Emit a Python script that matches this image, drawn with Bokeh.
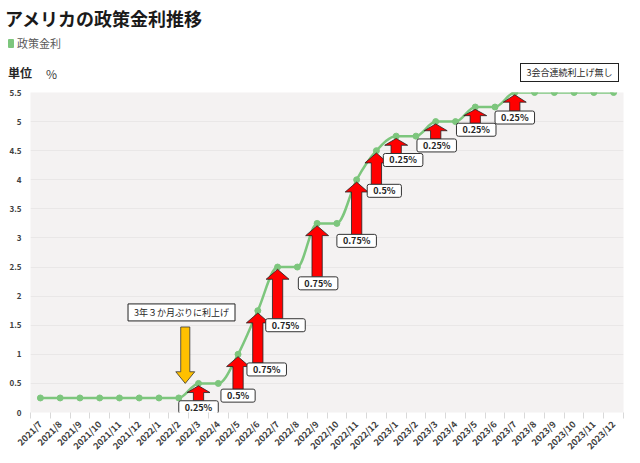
import math
from bokeh.plotting import figure
from bokeh.layouts import column
from bokeh.models import Range1d, FixedTicker, Label, ColumnDataSource, Div
from bokeh.core.properties import value
from bokeh.embed import file_html
from bokeh.resources import INLINE

# ---------------- data ----------------
months = ["2021/7", "2021/8", "2021/9", "2021/10", "2021/11", "2021/12",
          "2022/1", "2022/2", "2022/3", "2022/4", "2022/5", "2022/6",
          "2022/7", "2022/8", "2022/9", "2022/10", "2022/11", "2022/12",
          "2023/1", "2023/2", "2023/3", "2023/4", "2023/5", "2023/6",
          "2023/7", "2023/8", "2023/9", "2023/10", "2023/11", "2023/12"]
rate = [0.25, 0.25, 0.25, 0.25, 0.25, 0.25, 0.25, 0.25, 0.5, 0.5,
        1.0, 1.75, 2.5, 2.5, 3.25, 3.25, 4.0, 4.5, 4.75, 4.75,
        5.0, 5.0, 5.25, 5.25, 5.5, 5.5, 5.5, 5.5, 5.5, 5.5]
y_ticks = [0, 0.5, 1, 1.5, 2, 2.5, 3, 3.5, 4, 4.5, 5, 5.5]
title_text = "アメリカの政策金利推移"
series_name = "政策金利"
unit_text = "単位"
unit_sym = "%"
note_start = "3年３か月ぶりに利上げ"
note_end = "3会合連続利上げ無し"

# ---------------- layout (styling only) ----------------
label_dx = [0, 0, 0.45, 0.4, 0.05, 0, 0.4, 0.35, 0.05, 0.05, 0]
label_dy = [-0.16, -0.21, -0.26, -0.25, -0.28, -0.3, -0.19, -0.16, -0.16, -0.14, -0.18]

GREEN = "#7DC67D"
JP = "Noto Sans CJK JP"
n = len(months)
idx = list(range(n))
HEAD_H = 86

# ---------------- header (title, legend, unit, end note) ----------------
A = "position:absolute;line-height:1;white-space:nowrap;"
header_html = f"""
<div style="position:relative;width:640px;height:{HEAD_H}px;font-family:'{JP}';background:white;">
<span style="{A}left:5px;top:9px;font-size:18px;font-weight:bold;color:#1A1A1A;">{title_text}</span>
<span style="{A}left:8px;top:39px;width:6px;height:9px;background:{GREEN};border-radius:1px;"></span>
<span style="{A}left:17px;top:38px;font-size:11px;color:#595959;">{series_name}</span>
<span style="{A}left:8px;top:67px;font-size:12px;font-weight:bold;color:#262626;">{unit_text}</span>
<span style="{A}left:46px;top:68px;font-size:12px;color:#404040;">{unit_sym}</span>
<span style="{A}left:520px;top:63px;width:99px;height:19px;box-sizing:border-box;border:1px solid #222222;background:white;display:flex;align-items:center;justify-content:center;font-size:9px;color:#262626;">{note_end}</span>
</div>
"""
header = Div(text=header_html, width=640, height=HEAD_H, margin=(0, 0, 0, 0))

# ---------------- main chart ----------------
p = figure(width=640, height=463 - HEAD_H, output_backend="svg", toolbar_location=None,
           x_range=Range1d(-0.5, n - 0.5), y_range=Range1d(0, 5.5),
           min_border_left=30, min_border_right=17, min_border_top=6,
           min_border_bottom=51)
p.background_fill_color = "#F4F2F2"
p.border_fill_color = "white"
p.outline_line_color = None

p.xaxis.ticker = FixedTicker(ticks=idx, minor_ticks=[i - 0.5 for i in range(n + 1)])
p.xaxis.major_label_overrides = {i: m for i, m in enumerate(months)}
p.xaxis.major_label_orientation = math.pi / 4
p.xaxis.axis_line_color = None
p.xaxis.major_tick_line_color = None
p.xaxis.minor_tick_line_color = "#D9D9D9"
p.xaxis.minor_tick_out = 6
p.xaxis.minor_tick_in = 0
p.xaxis.major_label_standoff = 4
p.xaxis.major_label_text_font = JP
p.xaxis.major_label_text_font_style = "bold"
p.xaxis.major_label_text_font_size = "9px"
p.xaxis.major_label_text_color = "#404040"

p.yaxis.ticker = FixedTicker(ticks=y_ticks)
p.yaxis.major_label_overrides = {t: f"{t:g}" for t in y_ticks}
p.yaxis.axis_line_color = None
p.yaxis.major_tick_line_color = None
p.yaxis.minor_tick_line_color = None
p.yaxis.major_label_standoff = 3
p.yaxis.major_label_text_font = JP
p.yaxis.major_label_text_font_style = "bold"
p.yaxis.major_label_text_font_size = "8px"
p.yaxis.major_label_text_color = "#404040"

p.xgrid.grid_line_color = None
p.ygrid.grid_line_color = "#E9E7E7"
p.ygrid.grid_line_width = 1

# smooth (monotone cubic) line through the data, drawn as bezier segments
d = [rate[i + 1] - rate[i] for i in range(n - 1)]
m = [0.0] * n
m[0], m[-1] = d[0], d[-1]
for k in range(1, n - 1):
    if d[k - 1] * d[k] <= 0:
        m[k] = 0.0
    else:
        m[k] = (d[k - 1] + d[k]) / 2
p.bezier(x0=idx[:-1], y0=rate[:-1], x1=idx[1:], y1=rate[1:],
         cx0=[idx[k] + 1 / 3 for k in range(n - 1)],
         cy0=[rate[k] + m[k] / 3 for k in range(n - 1)],
         cx1=[idx[k + 1] - 1 / 3 for k in range(n - 1)],
         cy1=[rate[k + 1] - m[k + 1] / 3 for k in range(n - 1)],
         line_color=GREEN, line_width=2.5)
p.scatter(idx, rate, size=6, color=GREEN)

# hike arrows and labels
hikes = [i for i in range(1, n) if rate[i] > rate[i - 1]]
axs, ays, lx, ly, lt = [], [], [], [], []
for k, i in enumerate(hikes):
    old, new = rate[i - 1], rate[i]
    ycen = old + label_dy[k]
    bottom = ycen + 0.11
    top = new - 0.04
    sw, hw = 0.26, 0.58
    hh = min(0.17, 0.45 * (top - bottom))
    x = idx[i]
    axs.append([x - sw, x - sw, x - hw, x, x + hw, x + sw, x + sw])
    ays.append([bottom, top - hh, top - hh, top, top - hh, top - hh, bottom])
    lx.append(x + label_dx[k]); ly.append(ycen)
    lt.append(f"{new - old:g}%")

p.patches(axs, ays, fill_color="#FF0000", line_color="#222222", line_width=0.8)
src = ColumnDataSource(dict(x=lx, y=ly, t=lt))
p.text(x="x", y="y", text="t", source=src, text_align="center", text_baseline="middle",
       text_font=value(JP), text_font_style="bold", text_font_size="9px",
       text_color="#262626", background_fill_color="white",
       border_line_color="#333333", border_line_width=1, padding=(6, 0),
       border_radius=2)

# yellow arrow marking the first hike
yx, ytop, ytip = 7.33, 1.47, 0.5
ysw, yhw, yhh = 0.23, 0.48, 0.2
p.patch([yx - ysw, yx - ysw, yx - yhw, yx, yx + yhw, yx + ysw, yx + ysw],
        [ytop, ytip + yhh, ytip + yhh, ytip, ytip + yhh, ytip + yhh, ytop],
        fill_color="#FFC000", line_color="#333333", line_width=0.8)

p.add_layout(Label(x=7.14, y=1.72, text=note_start, text_align="center",
                   text_baseline="middle", text_font=JP, text_font_size="9px",
                   text_color="#262626", background_fill_color="white",
                   border_line_color="#222222", border_line_width=1, padding=(6, 2)))

layout = column(header, p, spacing=0)
open("out.html", "w").write(file_html(layout, INLINE))
